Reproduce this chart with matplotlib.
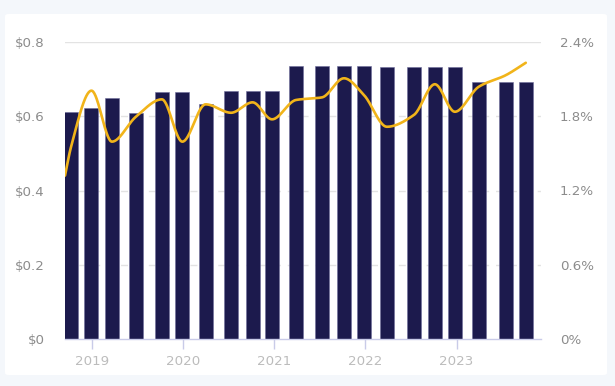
import matplotlib
matplotlib.use("Agg")
import matplotlib.pyplot as plt
import matplotlib.dates as mdates
from matplotlib.patches import FancyBboxPatch
import numpy as np
import datetime as dt

# ---- data ----
bar_dates = ["2018-10-10", "2018-12-31", "2019-03-23", "2019-06-27", "2019-10-09",
             "2019-12-30", "2020-04-01", "2020-07-12", "2020-10-06", "2020-12-23",
             "2021-03-29", "2021-07-11", "2021-10-07", "2021-12-26", "2022-03-28",
             "2022-07-14", "2022-10-06", "2022-12-25", "2023-03-31", "2023-07-17",
             "2023-10-05"]
dividends = [0.612, 0.622, 0.649, 0.607, 0.664, 0.664, 0.632, 0.667, 0.667, 0.667,
             0.735, 0.735, 0.735, 0.735, 0.731, 0.731, 0.731, 0.731, 0.691, 0.691, 0.691]

yield_dates = ["2018-09-16"] + bar_dates
yields = [1.32, 1.55, 2.005, 1.594, 1.795, 1.935, 1.594, 1.895, 1.827, 1.911, 1.774,
          1.93, 1.951, 2.105, 1.97, 1.714, 1.809, 2.057, 1.835, 2.037, 2.13, 2.23]

left_ticks = [0, 0.2, 0.4, 0.6, 0.8]
left_labels = ["$0", "$0.2", "$0.4", "$0.6", "$0.8"]
right_ticks = [0, 0.6, 1.2, 1.8, 2.4]
right_labels = ["0%", "0.6%", "1.2%", "1.8%", "2.4%"]
year_ticks = [2019, 2020, 2021, 2022, 2023]

NAVY = "#1c1a4d"
GOLD = "#f1b41a"
LABEL = "#8c8c8c"
XLABEL = "#bcbcbc"
AXIS = "#c9cbe8"


def monotone(x, y, n=800):
    x = np.asarray(x, float); y = np.asarray(y, float)
    h = np.diff(x); d = np.diff(y) / h
    m = np.zeros_like(y)
    m[0] = d[0]; m[-1] = d[-1]
    for i in range(1, len(y) - 1):
        if d[i - 1] * d[i] <= 0:
            m[i] = 0
        else:
            w1 = 2 * h[i] + h[i - 1]; w2 = h[i] + 2 * h[i - 1]
            m[i] = (w1 + w2) / (w1 / d[i - 1] + w2 / d[i])
    xs = np.linspace(x[0], x[-1], n)
    idx = np.clip(np.searchsorted(x, xs) - 1, 0, len(x) - 2)
    t = (xs - x[idx]) / h[idx]
    h00 = 2 * t**3 - 3 * t**2 + 1; h10 = t**3 - 2 * t**2 + t
    h01 = -2 * t**3 + 3 * t**2; h11 = t**3 - t**2
    ys = h00 * y[idx] + h10 * h[idx] * m[idx] + h01 * y[idx + 1] + h11 * h[idx] * m[idx + 1]
    return xs, ys


bd = mdates.date2num([dt.datetime.fromisoformat(s) for s in bar_dates])
yd = mdates.date2num([dt.datetime.fromisoformat(s) for s in yield_dates])

fig = plt.figure(figsize=(6.15, 3.86), dpi=100)
fig.patch.set_facecolor("#f4f7fb")
card = FancyBboxPatch((5 / 615, 11 / 386), 602 / 615, 361 / 386,
                      boxstyle="round,pad=0,rounding_size=0.006",
                      transform=fig.transFigure, facecolor="white", edgecolor="none", zorder=-10)
fig.patches.append(card)

ax = fig.add_axes([65 / 615, (386 - 339.3) / 386, (541 - 65) / 615, (339.3 - 41.7) / 386])
ax.set_facecolor("none")
ax.bar(bd, dividends, width=56, color=NAVY, edgecolor="#6e6c9c", linewidth=0.4, zorder=2)
ax.set_ylim(0, 0.8)
ax.set_xlim(mdates.date2num(dt.datetime(2018, 9, 16)), mdates.date2num(dt.datetime(2023, 12, 5)))

for v in left_ticks[1:-1]:
    ax.axhline(v, color="#e3e3e3", lw=1.0, ls=(0, (5, 5)), zorder=1)
ax.axhline(0.8, color="#e3e3e3", lw=1.0, zorder=1)

ax.set_yticks(left_ticks)
ax.set_yticklabels(left_labels)
ax.tick_params(axis="y", length=0, pad=14.5, labelsize=9.6, labelcolor=LABEL)
xt = mdates.date2num([dt.datetime(y, 1, 1) for y in year_ticks])
ax.set_xticks(xt)
ax.set_xticklabels([str(y) for y in year_ticks])
ax.tick_params(axis="x", length=7, width=1, color=AXIS, pad=4.5, labelsize=9.6, labelcolor=XLABEL)
for s in ["top", "left", "right"]:
    ax.spines[s].set_visible(False)
ax.spines["bottom"].set_color(AXIS)
ax.spines["bottom"].set_linewidth(1)
ax.spines["bottom"].set_zorder(3)

ax2 = ax.twinx()
xs, ys = monotone(yd, yields)
ax2.plot(xs, ys, color=GOLD, lw=1.9, solid_capstyle="round", zorder=4)
ax2.set_ylim(0, 2.4)
ax2.set_yticks(right_ticks)
ax2.set_yticklabels(right_labels)
ax2.tick_params(axis="y", length=0, pad=13.5, labelsize=9.6, labelcolor=LABEL)
for s in ["top", "left", "right", "bottom"]:
    ax2.spines[s].set_visible(False)

fig.savefig("out.png", dpi=100, facecolor=fig.get_facecolor())
